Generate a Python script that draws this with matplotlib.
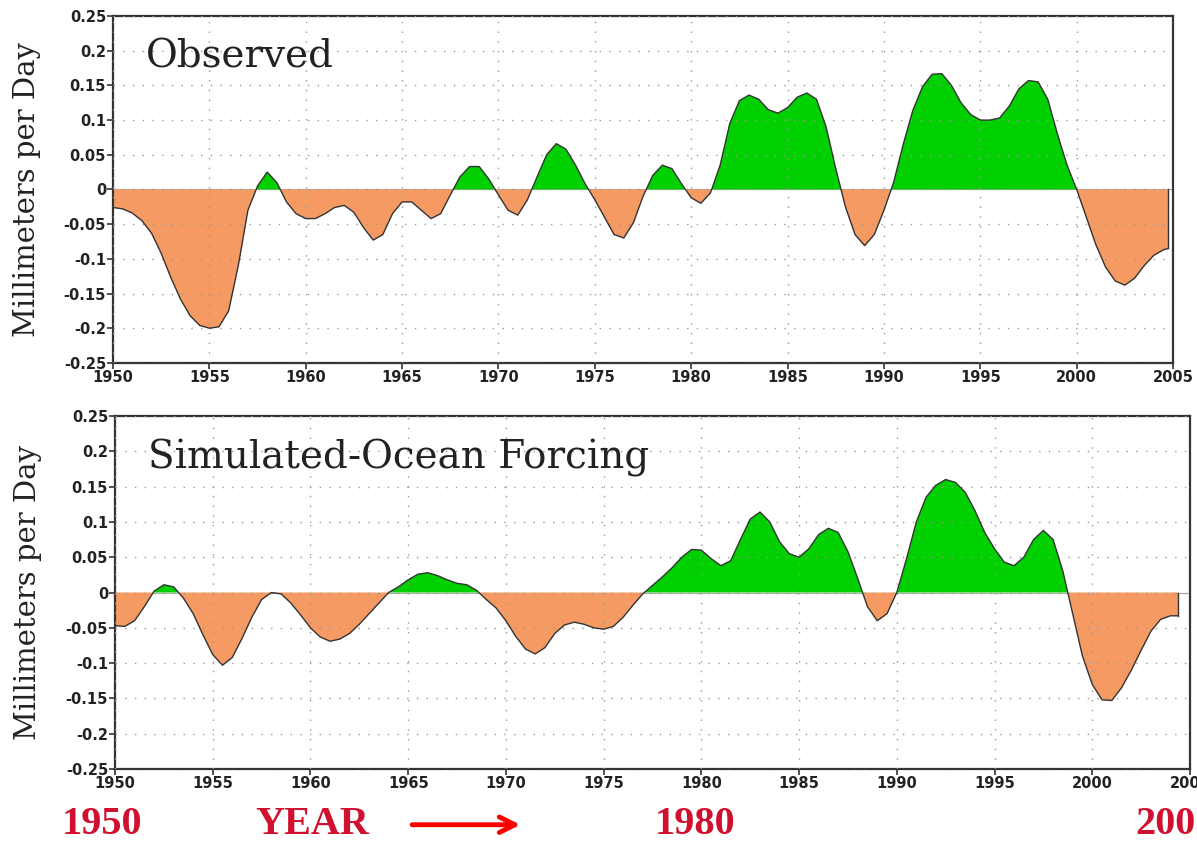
import numpy as np
from matplotlib import pyplot as plt
from matplotlib.ticker import MultipleLocator, FuncFormatter

# values, half-year steps
obs_years = [1950.0 + 0.5 * i for i in range(110)] + [2004.75]
obs_vals = [
  -0.026, -0.028, -0.034, -0.045, -0.063, -0.092, -0.127, -0.158, -0.182, -0.196,
  -0.200, -0.198, -0.175, -0.110, -0.030, 0.005, 0.025, 0.010, -0.018, -0.035,
  -0.042, -0.042, -0.035, -0.026, -0.023, -0.033, -0.055, -0.073, -0.065, -0.035,
  -0.018, -0.018, -0.030, -0.042, -0.035, -0.008, 0.018, 0.033, 0.033, 0.015,
  -0.008, -0.030, -0.037, -0.015, 0.018, 0.050, 0.066, 0.058, 0.035, 0.008,
  -0.015, -0.040, -0.065, -0.070, -0.048, -0.010, 0.020, 0.035, 0.030, 0.008,
  -0.012, -0.020, -0.005, 0.035, 0.095, 0.128, 0.136, 0.130, 0.115, 0.110,
  0.118, 0.133, 0.139, 0.130, 0.090, 0.030, -0.025, -0.065, -0.081, -0.065,
  -0.030, 0.010, 0.065, 0.114, 0.148, 0.166, 0.167, 0.150, 0.125, 0.108,
  0.100, 0.100, 0.103, 0.120, 0.145, 0.157, 0.155, 0.130, 0.080, 0.035,
  0.000, -0.040, -0.080, -0.112, -0.132, -0.138, -0.128, -0.110, -0.095, -0.087,
  -0.085,
]

sim_years = [1950.0 + 0.5 * i for i in range(109)] + [2004.4]
sim_vals = [
  -0.047, -0.048, -0.040, -0.020, 0.002, 0.011, 0.008, -0.008, -0.030, -0.060,
  -0.088, -0.103, -0.092, -0.065, -0.035, -0.010, 0.000, -0.002, -0.015, -0.032,
  -0.050, -0.063, -0.069, -0.066, -0.058, -0.045, -0.030, -0.015, 0.000, 0.008,
  0.018, 0.026, 0.028, 0.024, 0.018, 0.013, 0.011, 0.003, -0.010, -0.022,
  -0.040, -0.062, -0.080, -0.087, -0.078, -0.058, -0.046, -0.042, -0.045, -0.050,
  -0.052, -0.048, -0.035, -0.018, -0.002, 0.010, 0.022, 0.035, 0.050, 0.061,
  0.060, 0.048, 0.038, 0.045, 0.075, 0.104, 0.114, 0.100, 0.072, 0.055,
  0.050, 0.062, 0.082, 0.091, 0.085, 0.058, 0.020, -0.020, -0.040, -0.030,
  0.000, 0.048, 0.100, 0.135, 0.152, 0.160, 0.156, 0.142, 0.116, 0.085,
  0.062, 0.043, 0.038, 0.050, 0.075, 0.088, 0.075, 0.030, -0.030, -0.090,
  -0.130, -0.152, -0.153, -0.135, -0.110, -0.082, -0.055, -0.038, -0.033, -0.033,
]

panels = [
  ("Observed", obs_years, obs_vals, [0.0944, 0.569, 0.8856, 0.412]),
  ("Simulated-Ocean Forcing", sim_years, sim_vals, [0.0961, 0.0867, 0.898, 0.4192]),
]

GREEN = "#00d000"
ORANGE = "#f59a62"
RED = "#d0102f"

fig = plt.figure(figsize=(11.97, 8.42), dpi=100)

for title, years, vals, rect in panels:
  ax = fig.add_axes(rect)
  x = np.array(years)
  y = np.array(vals)
  ax.axhline(0, color="#aaaaaa", lw=0.8, zorder=1)
  ax.fill_between(x, y, 0, where=y >= 0, interpolate=True, color=GREEN, lw=0, zorder=2)
  ax.fill_between(x, y, 0, where=y <= 0, interpolate=True, color=ORANGE, lw=0, zorder=2)
  ax.plot(x, y, color="#333333", lw=1.0, zorder=3, solid_joinstyle="round")
  ax.plot([x[-1], x[-1]], [y[-1], 0], color="#333333", lw=1.0, zorder=3)

  ax.set_xlim(1950, 2005)
  ax.set_ylim(-0.25, 0.25)
  ax.xaxis.set_major_locator(MultipleLocator(5))
  ax.yaxis.set_major_locator(MultipleLocator(0.05))
  ax.yaxis.set_major_formatter(FuncFormatter(lambda v, p: "%g" % round(v, 2)))
  ax.grid(True, color="#999999", lw=1.0, linestyle=(0, (1, 6)), zorder=4)
  ax.set_axisbelow(False)
  for s in ax.spines.values():
    s.set_color("#333333")
    s.set_linewidth(1.6)
  ax.tick_params(direction="out", length=4, width=1.2, color="#333333", pad=1)
  for lab in ax.get_xticklabels() + ax.get_yticklabels():
    lab.set_fontsize(10.5)
    lab.set_fontweight("bold")
    lab.set_color("#222222")

  ax.set_ylabel("Millimeters per Day", family="DejaVu Serif", fontsize=21, color="#222222")
  ax.yaxis.set_label_coords(-0.068, 0.5)
  ax.text(0.031, 0.935, title, transform=ax.transAxes, family="DejaVu Serif",
          fontsize=28, va="top", ha="left", color="#222222", zorder=5)

# bottom red annotation
for txt, xp in [("1950", 0.052), ("YEAR", 0.213), ("1980", 0.547), ("2005", 0.948)]:
  fig.text(xp, 0.021, txt, family="Liberation Serif", fontweight="bold",
           fontsize=29, color=RED, ha="left", va="center")
fig.patches.append(plt.matplotlib.patches.FancyArrowPatch(
  (0.342, 0.0205), (0.437, 0.0205), transform=fig.transFigure,
  arrowstyle="->", mutation_scale=28, color="#ff0000", lw=3.5))

fig.savefig("out.png", dpi=100)
